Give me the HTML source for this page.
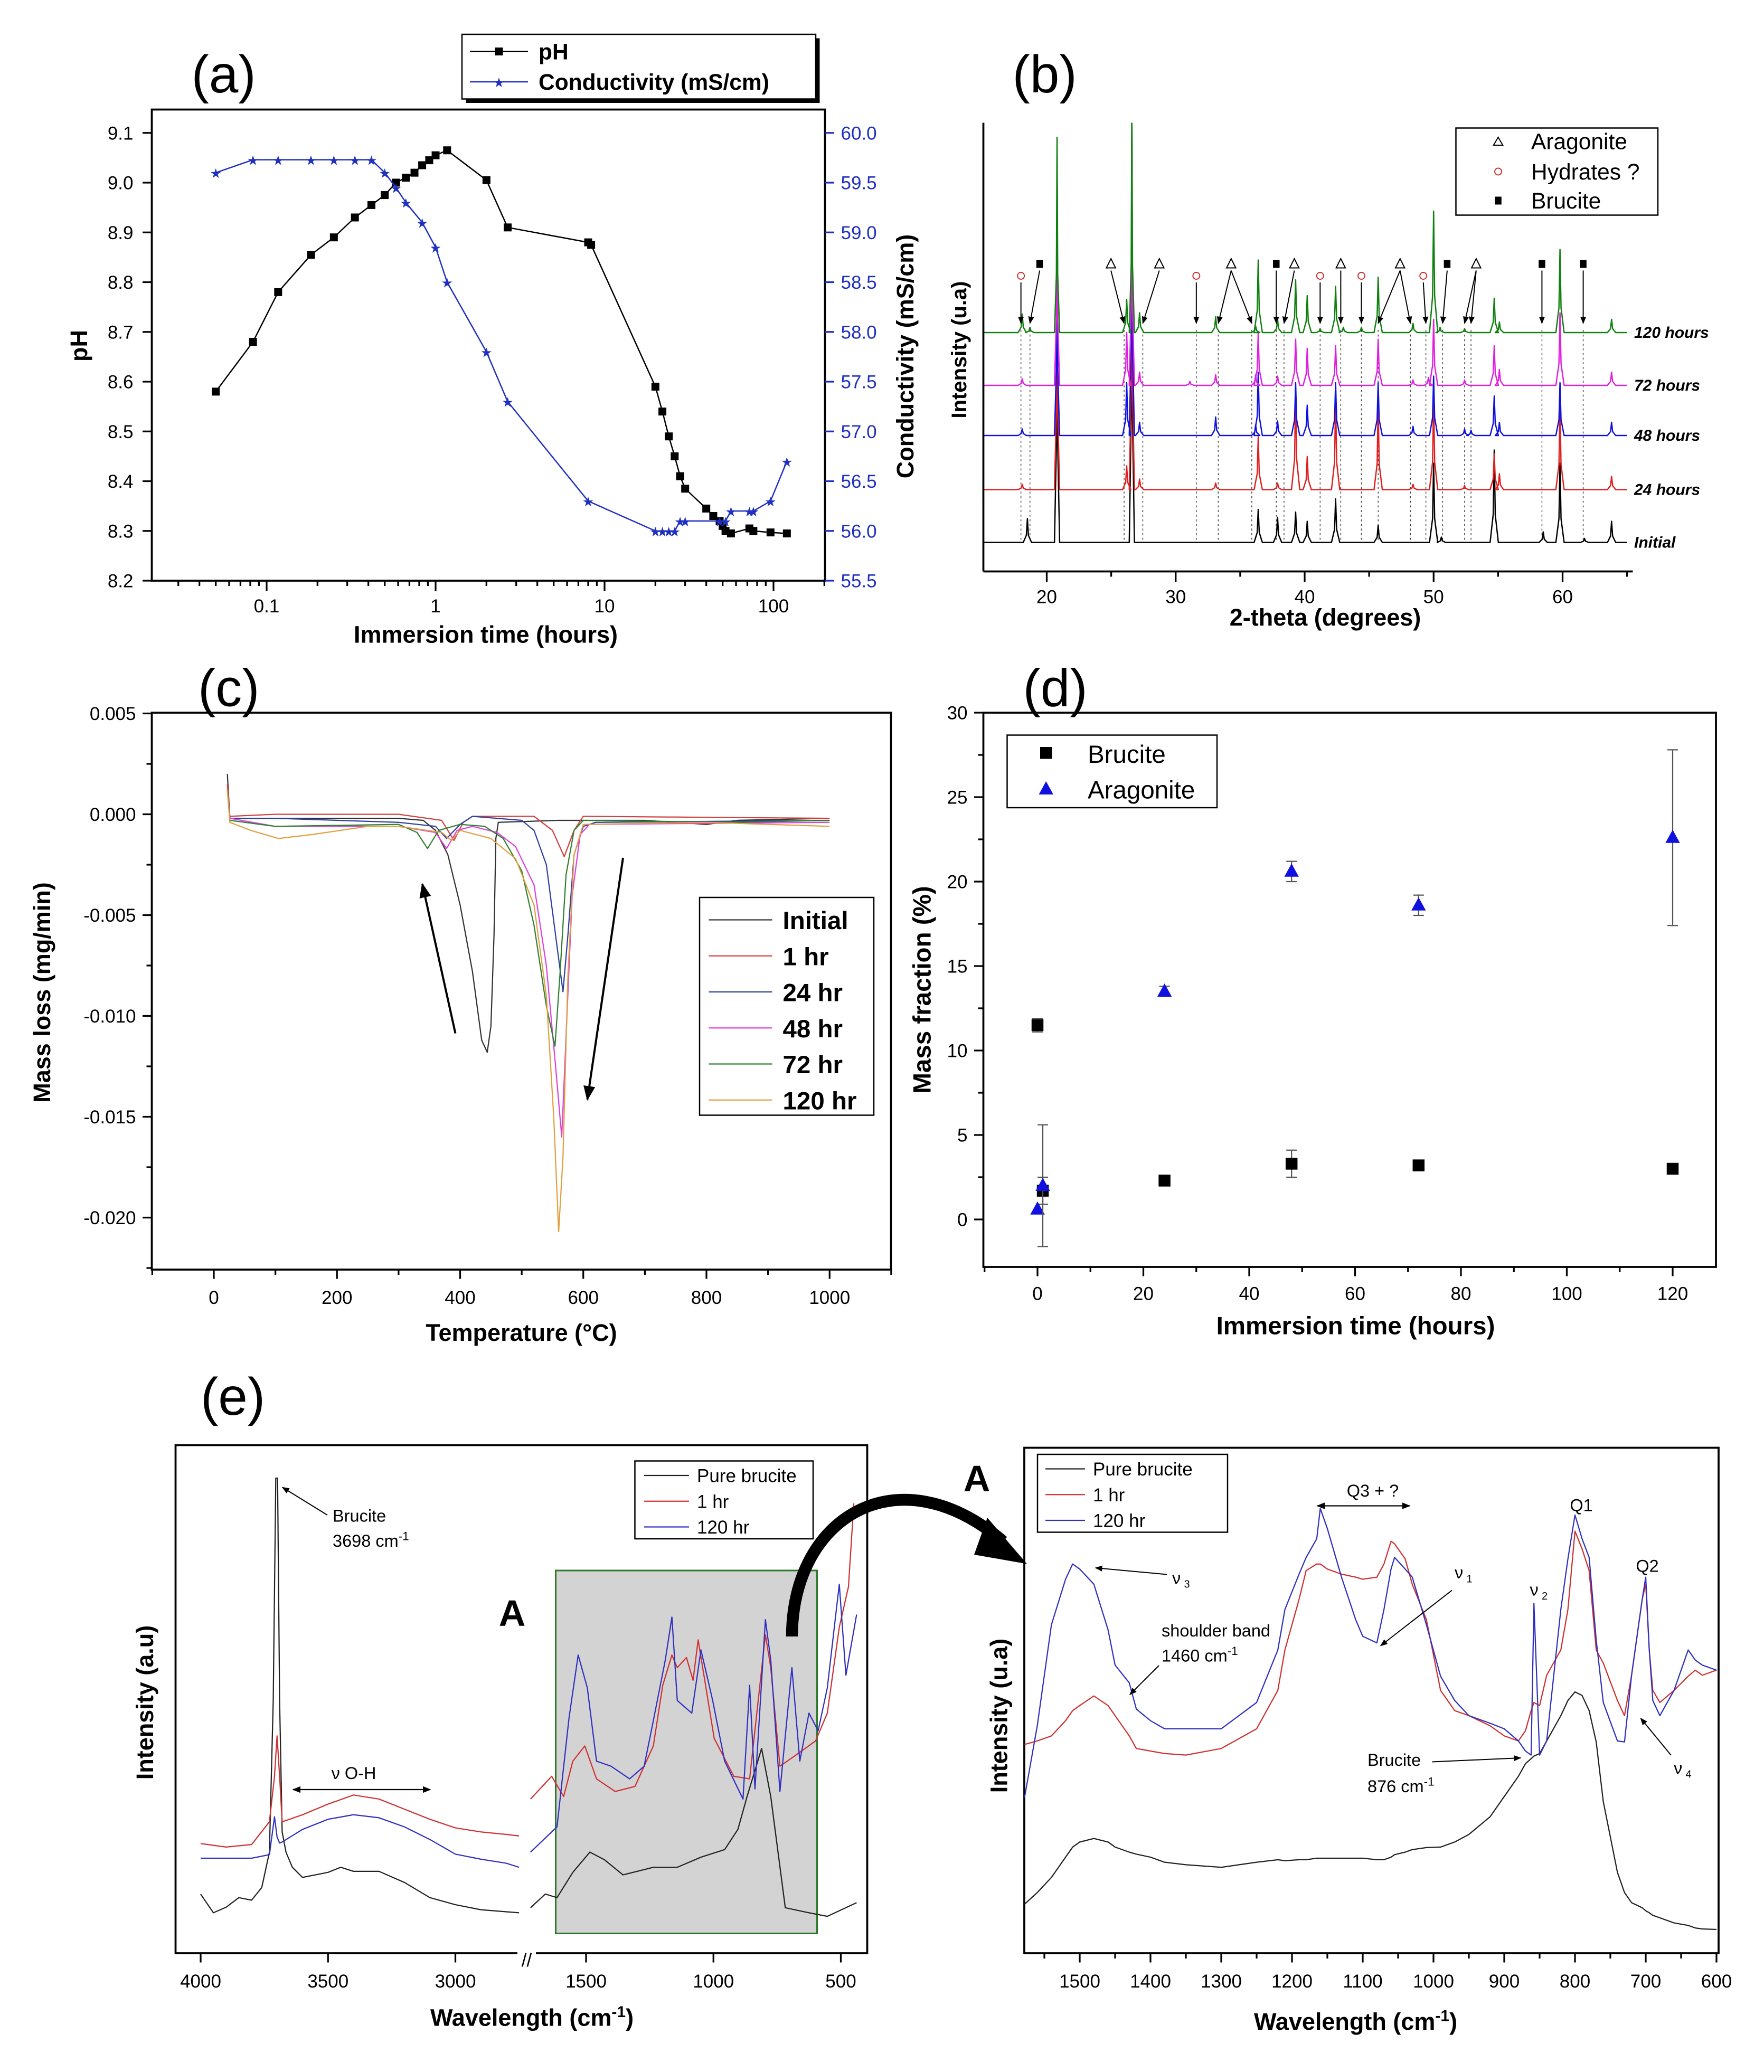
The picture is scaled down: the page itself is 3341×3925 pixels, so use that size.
<!DOCTYPE html>
<html><head><meta charset="utf-8"><style>
html,body{margin:0;padding:0;background:#fff;}
svg{display:block;font-family:"Liberation Sans",Arial,sans-serif;}
</style></head><body>
<svg id="fig" width="3341" height="3925" viewBox="0 0 1336.4 1570" xmlns="http://www.w3.org/2000/svg">
<defs>
<marker id="ah" viewBox="0 0 10 10" refX="9" refY="5" markerWidth="7" markerHeight="7" orient="auto-start-reverse"><path d="M0,1 L10,5 L0,9 z" fill="#000"/></marker>
<clipPath id="clipB"><rect x="745" y="93" width="492" height="340"/></clipPath>
<clipPath id="clipEL1"><rect x="133" y="1095" width="272" height="385"/></clipPath>
<clipPath id="clipEL2"><rect x="395" y="1095" width="262" height="385"/></clipPath>
<clipPath id="clipER"><rect x="776" y="1097" width="526" height="383"/></clipPath>
</defs>
</svg>
<script>
// ---------- panel (a) data ----------
const aTimes=[0.05,0.083,0.117,0.183,0.25,0.333,0.417,0.5,0.583,0.667,0.75,0.833,0.917,1,1.17,2,2.67,8,8.33,20,22,24,26,28,30,40,44,48,50,52,56,72,76,96,120];
const aPH=[8.58,8.68,8.78,8.855,8.89,8.93,8.955,8.975,9.0,9.01,9.02,9.035,9.045,9.055,9.065,9.005,8.91,8.88,8.875,8.59,8.54,8.49,8.45,8.41,8.385,8.345,8.33,8.32,8.31,8.30,8.295,8.305,8.30,8.297,8.295];
const cTimes=[0.05,0.083,0.117,0.183,0.25,0.333,0.417,0.5,0.583,0.667,0.833,1,1.17,2,2.67,8,20,22,24,26,28,30,48,52,56,72,76,96,120];
const cCond=[59.6,59.73,59.73,59.73,59.73,59.73,59.73,59.6,59.45,59.3,59.1,58.85,58.5,57.8,57.3,56.3,56,56,56,56,56.1,56.1,56.1,56.1,56.2,56.2,56.2,56.3,56.7];
const aPHTicks=[8.2,8.3,8.4,8.5,8.6,8.7,8.8,8.9,9.0,9.1];
const aCondTicks=[55.5,56.0,56.5,57.0,57.5,58.0,58.5,59.0,59.5,60.0];
const aXTicks=[0.1,1,10,100];
// ---------- panel (b) data ----------
const bSeriesNames=["Initial","24 hours","48 hours","72 hours","120 hours"];
const bPeaks=[
 [[18.5,18],[20.8,250],[26.6,320],[36.4,25],[37.9,19],[39.3,23],[40.2,16],[42.4,33],[45.7,13],[50.0,60],[50.6,4],[54.7,70],[58.5,8],[59.8,60],[61.7,3],[63.8,16]],
 [[18.1,4],[20.8,200],[26.2,18],[26.6,260],[27.2,8],[33.1,5],[36.4,40],[37.9,5],[39.3,77],[40.2,25],[42.4,70],[45.7,65],[48.4,4],[50.0,70],[52.4,3],[54.7,27],[55.1,12],[59.8,63],[63.8,10]],
 [[18.1,5],[20.8,170],[26.2,40],[26.6,230],[27.2,10],[33.1,14],[36.2,8],[36.4,48],[37.9,11],[39.3,40],[40.2,23],[42.4,40],[45.7,40],[48.4,7],[50.0,45],[52.4,5],[52.9,4],[54.7,30],[55.1,10],[59.8,40],[63.8,10]],
 [[18.1,5],[20.8,170],[26.2,40],[26.6,200],[27.2,10],[31.1,3],[33.1,8],[36.2,8],[36.4,40],[37.9,7],[39.3,35],[40.2,28],[42.4,30],[45.7,35],[48.4,4],[49.6,6],[50.0,50],[52.4,4],[54.7,30],[55.1,12],[59.8,55],[63.8,10]],
 [[18.1,14],[18.7,4],[20.8,148],[26.2,25],[26.6,170],[27.2,15],[33.1,12],[36.2,5],[36.4,55],[37.9,10],[39.3,40],[40.2,28],[41.2,3],[42.4,35],[43.0,4],[44.4,4],[45.7,42],[48.4,7],[50.0,92],[50.5,4],[52.4,3],[54.7,26],[55.1,8],[59.8,63],[63.8,10]]
];
const bTicks=[20,30,40,50,60];
const bSymPos=[18.0,19.45,24.98,28.73,31.6,34.3,37.8,39.2,41.2,42.8,44.4,47.4,49.2,51.05,53.3,58.4,61.6];
const bSymType=["c","s","t","t","c","t","s","t","c","t","c","t","c","s","t","s","s"];
const bArrowTargets=[[18.0],[18.7],[26.0],[27.45],[31.6],[33.3,35.9],[37.8],[38.4],[41.2],[42.8],[44.4],[45.7,48.2],[49.4],[50.7],[52.4,52.9],[58.4],[61.6]];
// ---------- panel (c) data ----------
const cNames=["Initial","1 hr","24 hr","48 hr","72 hr","120 hr"];
const cCurves=[
 [[22,0.002],[26,-0.0002],[100,-0.0002],[300,-0.0002],[340,-0.0003],[360,-0.0008],[380,-0.002],[400,-0.0045],[420,-0.0078],[435,-0.0112],[444,-0.0118],[450,-0.0105],[455,-0.006],[458,-0.0012],[462,-0.0004],[560,-0.0003],[700,-0.0003],[800,-0.0005],[850,-0.0003],[1000,-0.0002]],
 [[22,0.0015],[26,-0.0001],[100,0],[300,0],[370,-0.0003],[390,-0.0013],[405,-0.0004],[420,-0.0001],[520,-0.0001],[550,-0.0008],[569,-0.0021],[585,-0.0008],[600,-0.0001],[1000,-0.0002]],
 [[22,0.0012],[26,-0.0002],[100,-0.0002],[300,-0.0004],[360,-0.0006],[378,-0.0012],[400,-0.0005],[420,-0.0001],[500,-0.0003],[520,-0.0008],[540,-0.0025],[555,-0.006],[567,-0.0088],[575,-0.006],[585,-0.002],[600,-0.0006],[620,-0.0004],[1000,-0.0003]],
 [[22,0.0012],[26,-0.0002],[100,-0.0006],[300,-0.0006],[360,-0.0009],[378,-0.0017],[395,-0.0008],[420,-0.0006],[460,-0.0009],[490,-0.0016],[520,-0.0035],[540,-0.0075],[555,-0.0125],[565,-0.016],[572,-0.011],[582,-0.004],[595,-0.001],[610,-0.0005],[1000,-0.0004]],
 [[22,0.0012],[26,-0.0003],[100,-0.0006],[300,-0.0005],[330,-0.0009],[347,-0.0017],[365,-0.0008],[400,-0.0005],[440,-0.0006],[470,-0.0012],[500,-0.0028],[520,-0.0055],[540,-0.0095],[554,-0.0115],[562,-0.008],[572,-0.003],[585,-0.0008],[600,-0.0003],[850,-0.0004],[1000,-0.0003]],
 [[22,0.0012],[26,-0.0004],[60,-0.0008],[105,-0.0012],[160,-0.001],[250,-0.0006],[300,-0.0006],[370,-0.0009],[386,-0.0013],[400,-0.0008],[450,-0.0012],[490,-0.0022],[520,-0.0045],[540,-0.009],[552,-0.015],[560,-0.0207],[567,-0.017],[575,-0.008],[585,-0.002],[600,-0.0005],[800,-0.0004],[1000,-0.0006]]
];
const cColors=["#333","#d04040","#3040a0","#e040e0","#308030","#e0a040"];
const cYTicks=[0.005,0.000,-0.005,-0.010,-0.015,-0.020];
const cXTicks=[0,200,400,600,800,1000];
// ---------- panel (d) data ----------
const dHours=[0,1,24,48,72,120];
const dBrucite=[11.5,1.7,2.3,3.3,3.2,3.0];
const dBruciteErr=[0.4,0.8,0.1,0.8,0.1,0.1];
const dArag=[0.6,2.0,13.5,20.6,18.6,22.6];
const dAragErr=[0.1,3.6,0.3,0.6,0.6,5.2];
const dYTicks=[0,5,10,15,20,25,30];
const dXTicks=[0,20,40,60,80,100,120];
// ---------- panel (e) data ----------
const eNames=["Pure brucite","1 hr","120 hr"];
const eColors=["#222","#d03030","#3030c0"];
const eLeftWaves=[
 [4000,3950,3900,3850,3800,3760,3730,3715,3705,3698,3690,3680,3665,3640,3600,3500,3450,3400,3300,3200,3100,3000,2900,2800,2750],
 [4000,3900,3800,3730,3710,3700,3690,3680,3600,3500,3400,3300,3200,3100,3000,2900,2800,2750]
];
const eBruL=[11.7,8,9.1,11,10.5,13,20,50,94,94,50,24,20,17,15,16,17,16.2,16.2,14,11,9.6,8.6,8.2,8];
const eRedL=[21.7,21,21.5,26,35,43,35,26,27.4,29.5,31.3,30.5,28.5,26.5,24.8,24,23.5,23.2];
const eBlueL=[18.8,18.8,18.8,19.5,27,23,21.8,22,24.5,26.5,27.4,26.8,25,22.5,19.6,18.6,17.8,17];
const eBruMW=[1718,1660,1614,1552,1485,1428,1355,1236,1142,1049,956,904,868,811,775,718,625,553,438];
const eBruM=[9,11.7,11,16,20,18.5,15.5,17,17,19,20.5,24.5,31,40.5,31,9,8,7.3,10];
const eRedMW=[1718,1635,1588,1552,1505,1459,1386,1308,1236,1199,1163,1142,1106,1080,1060,997,920,858,796,775,739,682,599,553,506,470,449];
const eRedM=[30.5,35,31,38,41,34.5,32,33,41,53,59,56.5,58.5,54,62,42.5,35,34.5,63,56.5,37,39,42,47.5,64.5,72.5,89];
const eBlueMW=[1718,1614,1567,1531,1495,1459,1402,1329,1272,1236,1189,1163,1142,1085,1049,1003,956,884,858,837,796,775,739,692,661,625,589,553,506,480,438];
const eBlueM=[20,25,46.5,59,52.5,38,37,34.5,37,46,58,66.5,50,47.5,60,50,38,30.5,53,32.5,66,58,32,56.5,38,47.5,44,52.5,73,55,67];
const eRightWaves=[1578,1560,1540,1520,1510,1500,1480,1460,1450,1430,1420,1400,1380,1350,1300,1250,1220,1210,1190,1180,1165,1160,1150,1130,1110,1100,1080,1070,1060,1055,1040,1030,1010,990,970,950,920,900,880,870,862,858,850,840,820,810,800,790,780,770,760,740,730,720,705,700,695,690,680,660,640,630,620,600];
const eBruR=[9.7,12,15,19,21,22,22.7,22,21,20,19.6,19,18,17.5,17,18,18.5,18.3,18.5,18.5,18.8,18.8,18.8,18.8,18.8,18.8,18.5,18.5,19,19.5,20,20.5,20.9,21,22,23.5,27,31,35,37.5,38.5,39,39.5,42,47,50,51.7,51,48,41.8,30,16,12,10,9,8.4,8,7.5,7,6,5.5,5,4.8,4.7];
const eRedR=[41.3,42,43,46,48,49,50.9,49,47,43,40.5,40,39.5,39.2,40.5,44.4,52,60,70,75.7,77,77,76,75,74.4,74,74.4,77,81.5,81,78,73,66,52,48,47,45,43,42,44,48,49.6,49,55,60,68,83.5,80,75.7,60,57.4,50,47,55,70,73,60,52,49.6,52,54.8,56,55,56];
const eBlueR=[30.8,45,65,74,77,76,73,64,57,53.5,48.3,46,44.4,44.4,44.4,49.6,60,68,75,78.3,82,88,84,74.4,66,62.7,61.4,68,76,78.3,76,74.4,65,54.8,50,47,45.5,44.4,42,40,39.2,69.2,39.2,42,68,78,86.7,82,78.3,62,49.6,42,41.8,55,70,74.4,60,50,47,52,60,58,57,56];
const eLTicks=[4000,3500,3000,1500,1000,500];
const eRTicks=[1500,1400,1300,1200,1100,1000,900,800,700,600];

// ---------- helpers ----------
const NS="http://www.w3.org/2000/svg";
const svg=document.getElementById("fig");
function mk(tag,attrs,name,inter,parent){
  const e=document.createElementNS(NS,tag);
  for(const k in attrs){e.setAttribute(k,attrs[k]);}
  
  
  (parent||svg).appendChild(e);
  return e;
}
function grp(name,parent,extra){return mk("g",extra||{},name,"false",parent);}
function txt(x,y,s,size,name,parent,opt){
  opt=opt||{};
  const a={x:x,y:y,"font-size":size,fill:opt.fill||"#000","text-anchor":opt.anchor||"start"};
  if(opt.bold)a["font-weight"]="bold";
  if(opt.italic)a["font-style"]="italic";
  if(opt.rot!==undefined)a.transform="rotate("+opt.rot+" "+x+" "+y+")";
  const t=mk("text",a,name,"false",parent);
  t.textContent=s;
  return t;
}
function sup(t,s,size,after){
  const sp=document.createElementNS(NS,"tspan");sp.setAttribute("dy",String(-size*0.55));sp.setAttribute("font-size",String(size));sp.textContent=s;t.appendChild(sp);
  if(after){const sp2=document.createElementNS(NS,"tspan");sp2.setAttribute("dy",String(size*0.55));sp2.textContent=after;t.appendChild(sp2);}
}
function line(x1,y1,x2,y2,name,parent,st){
  const a={x1:x1,y1:y1,x2:x2,y2:y2,stroke:(st&&st.stroke)||"#000","stroke-width":(st&&st.w)||1.3};
  if(st&&st.dash)a["stroke-dasharray"]=st.dash;
  if(st&&st.marker)a["marker-end"]="url(#ah)";
  if(st&&st.marker2)a["marker-start"]="url(#ah)";
  return mk("line",a,name,"false",parent);
}
function poly(pts,name,parent,color,w,extra){
  const a=Object.assign({points:pts.map(p=>p[0].toFixed(2)+","+p[1].toFixed(2)).join(" "),fill:"none",stroke:color,"stroke-width":w||1,"stroke-linejoin":"round"},extra||{});
  return mk("polyline",a,name,"false",parent);
}
function box(x,y,w,h,name,parent,sw){return mk("rect",{x:x,y:y,width:w,height:h,fill:"none",stroke:"#000","stroke-width":sw||1.5},name,"false",parent);}

// ================= PANEL A =================
(function(){
  const g=grp("panel-a");
  const xa=t=>330+128*Math.log10(t);
  const ya=v=>440-(v-8.2)*377;
  const yc=v=>440-(v-55.5)*75.4;
  txt(145,70,"(a)",40,"panel-label-a",g);
  box(115,83,510,357,"plot-area-a",g);
  aPHTicks.forEach(v=>{line(115,ya(v),108,ya(v),"ph-tick",g);txt(101,ya(v)+5,v.toFixed(1),14,"ph-tick-label",g,{anchor:"end"});});
  aCondTicks.forEach(v=>{line(625,yc(v),632,yc(v),"conductivity-tick",g,{stroke:"#2030c0"});txt(637,yc(v)+5,v.toFixed(1),14,"conductivity-tick-label",g,{fill:"#2030c0"});});
  aXTicks.forEach(t=>{line(xa(t),440,xa(t),448,"x-tick",g);txt(xa(t),464,String(t),14,"x-tick-label",g,{anchor:"middle"});});
  for(let d=-2;d<3;d++){for(let m=2;m<10;m++){const t=m*Math.pow(10,d);const x=xa(t);if(x>115&&x<625)line(x,440,x,444,"x-minor-tick",g);}}
  txt(368,487,"Immersion time (hours)",18,"x-axis-title-a",g,{anchor:"middle",bold:true});
  txt(66,262,"pH",18,"ph-axis-title",g,{anchor:"middle",bold:true,rot:-90});
  txt(692,270,"Conductivity (mS/cm)",18,"conductivity-axis-title",g,{anchor:"middle",bold:true,rot:-90});
  poly(aTimes.map((t,i)=>[xa(t),ya(aPH[i])]),"ph-line",g,"#000",1);
  aTimes.forEach((t,i)=>{mk("rect",{x:xa(t)-3,y:ya(aPH[i])-3,width:6,height:6,fill:"#000"},"ph-point","false",g);});
  poly(cTimes.map((t,i)=>[xa(t),yc(cCond[i])]),"conductivity-line",g,"#2030c0",1);
  cTimes.forEach((t,i)=>{txt(xa(t),yc(cCond[i])+4,"★",10,"conductivity-point",g,{anchor:"middle",fill:"#2030c0"});});
  mk("rect",{x:353,y:29,width:268,height:49,fill:"#000"},"legend-shadow-a","false",g);
  mk("rect",{x:350,y:26,width:268,height:49,fill:"#fff",stroke:"#000","stroke-width":1},"legend-box-a","false",g);
  line(356,39,400,39,"legend-ph-line",g,{w:1});
  mk("rect",{x:375,y:36,width:6,height:6,fill:"#000"},"legend-ph-marker","false",g);
  txt(408,45,"pH",17,"legend-ph-label",g,{bold:true});
  line(356,62,400,62,"legend-conductivity-line",g,{w:1,stroke:"#2030c0"});
  txt(378,66,"★",10,"legend-conductivity-marker",g,{anchor:"middle",fill:"#2030c0"});
  txt(408,68,"Conductivity (mS/cm)",17,"legend-conductivity-label",g,{bold:true});
})();

// ================= PANEL B =================
(function(){
  const g=grp("panel-b");
  const xb=d=>793+(d-20)*9.77;
  const bases=[411,371,330,292,252];
  const cols=["#000","#e02020","#1010e0","#e020e0","#108010"];
  txt(767,70,"(b)",40,"panel-label-b",g);
  bArrowTargets.flat().forEach(d=>{line(xb(d),250,xb(d),411,"guide-line",g,{w:0.6,dash:"1.5,2",stroke:"#444"});});
  const cg=grp("xrd-traces",g,{"clip-path":"url(#clipB)"});
  bPeaks.forEach((pk,si)=>{
    const base=bases[si];
    const pts=[[xb(15),base]];
    pk.forEach(p=>{const w=p[1]>100?0.1:0.16;pts.push([xb(p[0]-w*2),base]);pts.push([xb(p[0]-w*0.5),base-p[1]*0.3]);pts.push([xb(p[0]),base-p[1]]);pts.push([xb(p[0]+w*0.5),base-p[1]*0.3]);pts.push([xb(p[0]+w*2),base]);});
    pts.push([xb(65),base]);
    poly(pts,"xrd-trace-"+bSeriesNames[si].replace(" ","-"),cg,cols[si],1);
    txt(1238,base+4,bSeriesNames[si],12,"trace-label",g,{bold:true,italic:true});
  });
  line(745,93,745,433,"y-axis-b",g,{w:1.5});
  line(745,433,1237,433,"x-axis-b",g,{w:1.5});
  bTicks.forEach(d=>{line(xb(d),433,xb(d),441,"x-tick-b",g);txt(xb(d),457,String(d),14,"x-tick-label-b",g,{anchor:"middle"});});
  [25,35,45,55,65].forEach(d=>{if(xb(d)<=1238)line(xb(d),433,xb(d),437,"x-minor-tick-b",g);});
  txt(1004,474,"2-theta (degrees)",18,"x-axis-title-b",g,{anchor:"middle",bold:true});
  txt(732,265,"Intensity (u.a)",16,"y-axis-title-b",g,{anchor:"middle",bold:true,rot:-90});
  bSymPos.forEach((d,i)=>{
    const t=bSymType[i];const x=xb(d);const y=t==="c"?209:200;
    if(t==="t")mk("path",{d:`M${x},${y-4} L${x+3.5},${y+3} L${x-3.5},${y+3} Z`,fill:"#fff",stroke:"#000","stroke-width":0.8},"aragonite-marker","false",g);
    if(t==="c")mk("circle",{cx:x,cy:y,r:2.6,fill:"none",stroke:"#d03030","stroke-width":0.8},"hydrate-marker","false",g);
    if(t==="s")mk("rect",{x:x-2.5,y:y-3,width:5,height:6,fill:"#000"},"brucite-marker","false",g);
    bArrowTargets[i].forEach(tg=>{line(x,y+5,xb(tg),245,"phase-arrow",g,{w:0.8,marker:true});});
  });
  mk("rect",{x:1103,y:97,width:153,height:66,fill:"#fff",stroke:"#000","stroke-width":1},"legend-box-b","false",g);
  mk("path",{d:"M1135,104 L1138.5,110 L1131.5,110 Z",fill:"#fff",stroke:"#000","stroke-width":0.8},"legend-aragonite-marker","false",g);
  txt(1160,113,"Aragonite",17,"legend-aragonite-label",g);
  mk("circle",{cx:1135,cy:130,r:2.6,fill:"none",stroke:"#d03030","stroke-width":0.8},"legend-hydrate-marker","false",g);
  txt(1160,136,"Hydrates ?",17,"legend-hydrate-label",g);
  mk("rect",{x:1132.5,y:149,width:5,height:6,fill:"#000"},"legend-brucite-marker","false",g);
  txt(1160,158,"Brucite",17,"legend-brucite-label",g);
})();

// ================= PANEL C =================
(function(){
  const g=grp("panel-c");
  const xc=T=>162+T*0.4665;
  const yv=v=>617-v*15280;
  txt(150,535,"(c)",40,"panel-label-c",g);
  box(115,540,560,422,"plot-area-c",g);
  cYTicks.forEach(v=>{line(115,yv(v),108,yv(v),"y-tick-c",g);txt(103,yv(v)+5,v.toFixed(3),14,"y-tick-label-c",g,{anchor:"end"});});
  [0.0025,-0.0025,-0.0075,-0.0125,-0.0175,-0.0225].forEach(v=>{line(115,yv(v),111,yv(v),"y-minor-tick-c",g);});
  cXTicks.forEach(T=>{line(xc(T),962,xc(T),969,"x-tick-c",g);txt(xc(T),988,String(T),14,"x-tick-label-c",g,{anchor:"middle"});});
  [-100,100,300,500,700,900,1100].forEach(T=>{line(xc(T),962,xc(T),966,"x-minor-tick-c",g);});
  txt(395,1016,"Temperature (°C)",18,"x-axis-title-c",g,{anchor:"middle",bold:true});
  txt(38,752,"Mass loss (mg/min)",18,"y-axis-title-c",g,{anchor:"middle",bold:true,rot:-90});
  cCurves.forEach((c,i)=>{poly(c.map(p=>[xc(p[0]),yv(p[1])]),"dtg-curve-"+cNames[i].replace(" ","-"),g,cColors[i],0.9);});
  line(345,783,320,670,"arrow-left-c",g,{w:1.6,marker:true});
  line(472,650,445,833,"arrow-right-c",g,{w:1.6,marker:true});
  mk("rect",{x:530,y:680,width:132,height:165,fill:"#fff",stroke:"#000","stroke-width":1},"legend-box-c","false",g);
  cNames.forEach((n,i)=>{const y=697+i*27.3;line(537,y,585,y,"legend-line-c",g,{w:0.9,stroke:cColors[i]});txt(593,y+7,n,19,"legend-label-c",g,{bold:true});});
})();

// ================= PANEL D =================
(function(){
  const g=grp("panel-d");
  const xd=h=>786+h*4.01;
  const yd=v=>924-v*12.8;
  txt(775,535,"(d)",40,"panel-label-d",g);
  box(745,540,555,420,"plot-area-d",g);
  dYTicks.forEach(v=>{line(745,yd(v),738,yd(v),"y-tick-d",g);txt(733,yd(v)+5,String(v),14,"y-tick-label-d",g,{anchor:"end"});});
  dXTicks.forEach(h=>{line(xd(h),960,xd(h),967,"x-tick-d",g);txt(xd(h),985,String(h),14,"x-tick-label-d",g,{anchor:"middle"});});
  [-10,10,30,50,70,90,110].forEach(h=>{line(xd(h),960,xd(h),964,"x-minor-tick-d",g);});
  [2.5,7.5,12.5,17.5,22.5,27.5].forEach(v=>{line(745,yd(v),741,yd(v),"y-minor-tick-d",g);});
  txt(1027,1011,"Immersion time (hours)",19,"x-axis-title-d",g,{anchor:"middle",bold:true});
  txt(705,750,"Mass fraction (%)",19,"y-axis-title-d",g,{anchor:"middle",bold:true,rot:-90});
  function errbar(x,v,e,col,name){
    if(e<=0.15)return;
    line(x,yd(v-e),x,yd(v+e),name,g,{w:0.9,stroke:col});
    line(x-4,yd(v-e),x+4,yd(v-e),name,g,{w:0.9,stroke:col});
    line(x-4,yd(v+e),x+4,yd(v+e),name,g,{w:0.9,stroke:col});
  }
  dHours.forEach((h,i)=>{errbar(xd(h),dBrucite[i],dBruciteErr[i],"#555","brucite-error-bar");mk("rect",{x:xd(h)-4.5,y:yd(dBrucite[i])-4.5,width:9,height:9,fill:"#000"},"brucite-point","false",g);});
  dHours.forEach((h,i)=>{errbar(xd(h),dArag[i],dAragErr[i],"#555","aragonite-error-bar");const x=xd(h),y=yd(dArag[i]);mk("path",{d:`M${x},${y-6} L${x+5.5},${y+4} L${x-5.5},${y+4} Z`,fill:"#1010e0"},"aragonite-point","false",g);});
  mk("rect",{x:763,y:557,width:159,height:55,fill:"#fff",stroke:"#000","stroke-width":1},"legend-box-d","false",g);
  mk("rect",{x:788,y:566,width:9,height:9,fill:"#000"},"legend-brucite-marker-d","false",g);
  txt(824,578,"Brucite",19,"legend-brucite-label-d",g);
  mk("path",{d:"M792.5,592 L798,602 L787,602 Z",fill:"#1010e0"},"legend-aragonite-marker-d","false",g);
  txt(824,605,"Aragonite",19,"legend-aragonite-label-d",g);
})();

// ================= PANEL E =================
(function(){
  const g=grp("panel-e");
  const yE=v=>1480-v*3.83;
  const xL=w=>w>=2000?152+(4000-w)*0.193:444+(1500-w)*0.193;
  const xR=w=>818+(1500-w)*0.536;
  txt(152,1072,"(e)",40,"panel-label-e",g);
  mk("rect",{x:421,y:1190,width:198,height:275,fill:"#d3d3d3",stroke:"#2a7a2a","stroke-width":1.2},"highlight-region-A","false",g);
  box(133,1095,524,385,"plot-area-e-left",g);
  mk("rect",{x:392,y:1478,width:14,height:5,fill:"#fff"},"axis-break-gap","false",g);
  txt(399,1490,"//",14,"axis-break-mark",g,{anchor:"middle"});
  eLTicks.forEach(w=>{line(xL(w),1480,xL(w),1487,"x-tick-e-left",g);txt(xL(w),1506,String(w),14,"x-tick-label-e-left",g,{anchor:"middle"});});
  const t1=txt(326,1535,"Wavelength (cm",18,"x-axis-title-e-left",g,{bold:true});
  sup(t1,"-1",12,")");
  txt(116,1290,"Intensity (a.u)",18,"y-axis-title-e-left",g,{anchor:"middle",bold:true,rot:-90});
  const l1=grp("left-segment",g,{"clip-path":"url(#clipEL1)"});
  poly(eLeftWaves[0].map((w,i)=>[xL(w),yE(eBruL[i])]),"pure-brucite-trace-oh",l1,eColors[0],0.9);
  poly(eLeftWaves[1].map((w,i)=>[xL(w),yE(eRedL[i])]),"1hr-trace-oh",l1,eColors[1],0.9);
  poly(eLeftWaves[1].map((w,i)=>[xL(w),yE(eBlueL[i])]),"120hr-trace-oh",l1,eColors[2],0.9);
  const l2=grp("mid-segment",g,{"clip-path":"url(#clipEL2)"});
  poly(eBruMW.map((w,i)=>[xL(w),yE(eBruM[i])]),"pure-brucite-trace-fingerprint",l2,eColors[0],0.9);
  poly(eRedMW.map((w,i)=>[xL(w),yE(eRedM[i])]),"1hr-trace-fingerprint",l2,eColors[1],0.9);
  poly(eBlueMW.map((w,i)=>[xL(w),yE(eBlueM[i])]),"120hr-trace-fingerprint",l2,eColors[2],0.9);
  txt(252,1153,"Brucite",13,"brucite-annotation",g);
  const an=txt(252,1172,"3698 cm",13,"brucite-wavenumber-annotation",g);
  sup(an,"-1",9);
  line(248,1148,214,1127,"brucite-arrow",g,{w:0.8,marker:true});
  txt(268,1348,"ν O-H",13,"oh-band-annotation",g,{anchor:"middle"});
  line(222,1356,326,1356,"oh-band-arrow",g,{w:0.9,marker:true,marker2:true});
  txt(388,1232,"A",28,"region-label-A-left",g,{anchor:"middle",bold:true});
  mk("rect",{x:481,y:1107,width:135,height:59,fill:"#fff",stroke:"#000","stroke-width":1},"legend-box-e-left","false",g);
  eNames.forEach((n,i)=>{const y=1118+i*19.5;line(488,y,522,y,"legend-line-e-left",g,{w:0.9,stroke:eColors[i]});txt(528,y+5,n,14,"legend-label-e-left",g);});
  mk("path",{d:"M600,1240 C600,1150 680,1100 760,1168",fill:"none",stroke:"#000","stroke-width":9},"zoom-arrow-curve","false",g);
  mk("path",{d:"M748,1150 L778,1185 L738,1178 Z",fill:"#000"},"zoom-arrow-head","false",g);
  box(776,1097,526,383,"plot-area-e-right",g);
  eRTicks.forEach(w=>{line(xR(w),1480,xR(w),1487,"x-tick-e-right",g);txt(xR(w),1506,String(w),14,"x-tick-label-e-right",g,{anchor:"middle"});});
  [1550,1450,1350,1250,1150,1050,950,850,750,650].forEach(w=>{line(xR(w),1480,xR(w),1484,"x-minor-tick-e-right",g);});
  const t2=txt(950,1538,"Wavelength (cm",18,"x-axis-title-e-right",g,{bold:true});
  sup(t2,"-1",12,")");
  txt(763,1300,"Intensity (u.a)",18,"y-axis-title-e-right",g,{anchor:"middle",bold:true,rot:-90});
  const r=grp("right-traces",g,{"clip-path":"url(#clipER)"});
  poly(eRightWaves.map((w,i)=>[xR(w),yE(eBruR[i])]),"pure-brucite-trace-zoom",r,eColors[0],0.9);
  poly(eRightWaves.map((w,i)=>[xR(w),yE(eRedR[i])]),"1hr-trace-zoom",r,eColors[1],0.9);
  poly(eRightWaves.map((w,i)=>[xR(w),yE(eBlueR[i])]),"120hr-trace-zoom",r,eColors[2],0.9);
  txt(740,1130,"A",28,"region-label-A-right",g,{anchor:"middle",bold:true});
  mk("rect",{x:786,y:1102,width:144,height:59,fill:"#fff",stroke:"#000","stroke-width":1},"legend-box-e-right","false",g);
  eNames.forEach((n,i)=>{const y=1113+i*19.5;line(792,y,822,y,"legend-line-e-right",g,{w:0.9,stroke:eColors[i]});txt(828,y+5,n,14,"legend-label-e-right",g);});
  txt(1040,1134,"Q3 + ?",13,"q3-annotation",g,{anchor:"middle"});
  line(998,1141,1068,1141,"q3-arrow",g,{w:0.9,marker:true,marker2:true});
  txt(1198,1145,"Q1",13,"q1-annotation",g,{anchor:"middle"});
  txt(1248,1191,"Q2",13,"q2-annotation",g,{anchor:"middle"});
  txt(888,1200,"ν",13,"nu3-annotation",g);txt(897,1203,"3",8,"nu3-subscript",g);
  line(884,1193,830,1188,"nu3-arrow",g,{w:0.8,marker:true});
  txt(1102,1196,"ν",13,"nu1-annotation",g);txt(1111,1199,"1",8,"nu1-subscript",g);
  line(1100,1205,1046,1247,"nu1-arrow",g,{w:0.8,marker:true});
  txt(880,1240,"shoulder band",13,"shoulder-band-annotation",g);
  const sb=txt(880,1259,"1460 cm",13,"shoulder-band-wavenumber",g);
  sup(sb,"-1",9);
  line(878,1262,856,1284,"shoulder-arrow",g,{w:0.8,marker:true});
  txt(1159,1209,"ν",13,"nu2-annotation",g);txt(1168,1212,"2",8,"nu2-subscript",g);
  txt(1036,1338,"Brucite",13,"brucite-annotation-right",g);
  const bb=txt(1036,1358,"876 cm",13,"brucite-wavenumber-right",g);
  sup(bb,"-1",9);
  line(1085,1335,1152,1332,"brucite-arrow-right",g,{w:0.8,marker:true});
  txt(1268,1344,"ν",13,"nu4-annotation",g);txt(1277,1347,"4",8,"nu4-subscript",g);
  line(1266,1330,1243,1302,"nu4-arrow",g,{w:0.8,marker:true});
})();
</script>
</body></html>
